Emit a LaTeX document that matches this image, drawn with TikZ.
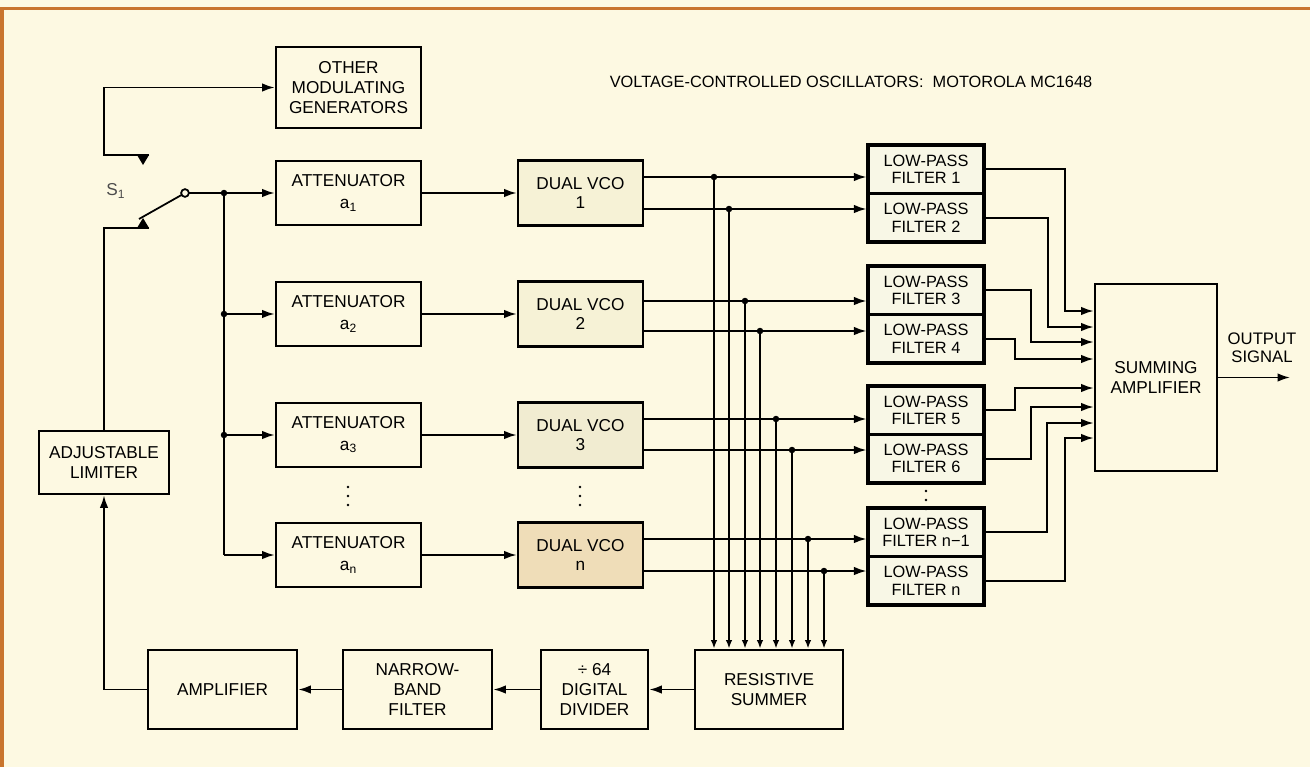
\documentclass[tikz,border=0pt]{standalone}
\usepackage{fontspec}
\setmainfont{Liberation Sans}
\usepackage{tikz}
\usetikzlibrary{calc,arrows.meta,positioning}
\definecolor{paper}{HTML}{FDF9E2}
\definecolor{rimx}{HTML}{C9752E}
\definecolor{vcoa}{HTML}{F6F2D6}
\definecolor{vcob}{HTML}{F1ECD1}
\definecolor{vcoc}{HTML}{EFDDB8}
\definecolor{lpf}{HTML}{F8F7E6}
\tikzset{
  ar/.style={-{Latex[length=2.5mm,width=1.7mm]},line width=1pt},
  arsm/.style={-{Latex[length=1.7mm,width=1.3mm]},line width=1pt},
  wire/.style={line width=1pt},
  box/.style={draw,line width=1.6pt,align=center,inner sep=2pt,font=\fontsize{9.8}{11.2}\selectfont},
  lpbox/.style={box,line width=1.8pt,fill=lpf,minimum width=2.32cm,minimum height=0.97cm,font=\fontsize{9.3}{9.8}\selectfont},
  jdot/.style={circle,fill,inner sep=0pt,minimum size=1.3mm}
}
\begin{document}
\begin{tikzpicture}[x=0.02cm,y=-0.02cm]
\useasboundingbox (0,0) rectangle (1310,767);
\fill[paper] (0,0) rectangle (1310,767);
\fill[rimx] (0,7) rectangle (1310,10);
\fill[rimx] (0,7) rectangle (4,767);
\node[font=\fontsize{9.3}{11}\selectfont] (title) at (851,82) {VOLTAGE-CONTROLLED OSCILLATORS:\ \ MOTOROLA MC1648};
% left column
\node[box,minimum width=2.9cm,minimum height=1.62cm] (othgen) at (348.5,87.5) {OTHER\\MODULATING\\GENERATORS};
\foreach \i/\y/\f in {1/193/vcoa,2/314/vcoa,3/435/vcob,n/555/vcoc}{
  \node[box,minimum width=2.9cm,minimum height=1.28cm] (att\i) at (348.5,\y) {ATTENUATOR\\[1pt]a\textsubscript{\i}};
  \node[box,minimum width=2.5cm,minimum height=1.3cm,fill=\f] (vco\i) at (580.5,\y) {DUAL VCO\\\i};
  \draw[ar] (att\i) -- (vco\i);
}
\node[box,minimum width=2.6cm,minimum height=1.26cm] (lim) at (104,462.5) {ADJUSTABLE\\LIMITER};
% bottom row
\node[box,minimum width=2.98cm,minimum height=1.58cm] (amp) at (222.5,689.5) {AMPLIFIER};
\node[box,minimum width=2.98cm,minimum height=1.58cm] (nbf) at (417.5,689.5) {NARROW-\\BAND\\FILTER};
\node[box,minimum width=2.14cm,minimum height=1.58cm] (div) at (594.5,689.5) {÷ 64\\DIGITAL\\DIVIDER};
\node[box,minimum width=2.96cm,minimum height=1.58cm] (rsum) at (769,689.5) {RESISTIVE\\SUMMER};
\draw[ar] (rsum) -- (div);
\draw[ar] (div) -- (nbf);
\draw[ar] (nbf) -- (amp);
\draw[ar] (amp.west) -| (lim.south);
% filters
\node[lpbox] (f1) at (926,169.25) {LOW-PASS\\FILTER 1};
\node[lpbox] (f2) at (926,217.75) {LOW-PASS\\FILTER 2};
\node[lpbox] (f3) at (926,290.25) {LOW-PASS\\FILTER 3};
\node[lpbox] (f4) at (926,338.75) {LOW-PASS\\FILTER 4};
\node[lpbox] (f5) at (926,410.25) {LOW-PASS\\FILTER 5};
\node[lpbox] (f6) at (926,458.75) {LOW-PASS\\FILTER 6};
\node[lpbox] (fn1) at (926,532.25) {LOW-PASS\\FILTER n−1};
\node[lpbox] (fn) at (926,580.75) {LOW-PASS\\FILTER n};
\node[box,minimum width=2.44cm,minimum height=3.74cm] (sum) at (1156,377.5) {SUMMING\\AMPLIFIER};
\coordinate (outp) at (1290,377.5);
\draw[ar] (sum.east) -- (outp);
\node[font=\fontsize{9.5}{10.5}\selectfont,align=center] (outlbl) at (1262,348) {OUTPUT\\SIGNAL};
% vco outputs and bus
\foreach \k/\v/\dy/\f/\bx in {1/1/-16/f1/714,2/1/16/f2/729,3/2/-13/f3/745,4/2/17/f4/760,5/3/-16/f5/776,6/3/15/f6/792,7/n/-16/fn1/808,8/n/16/fn/824}{
  \coordinate (o\k) at ($(vco\v.east)+(0,\dy)$);
  \coordinate (b\k) at (\bx,0);
  \draw[ar] (o\k) -- (o\k -| \f.west);
  \draw[arsm] (o\k -| b\k) -- (b\k |- rsum.north);
  \node[jdot] at (o\k -| b\k) {};
}
\foreach \f/\x/\yin [count=\k] in {f1/1065/311,f2/1048/327,f3/1031/342,f4/1015/359,f5/1015/388,f6/1031/407,fn1/1047/423,fn/1065/438}{
  \coordinate (s\k) at (\x,\yin);
  \draw[ar] (\f.east) -| (s\k) -- (s\k -| sum.west);
}
% switch S1
\coordinate (pivot) at (185,193);
\coordinate (blade) at (139,219);
\coordinate (upc) at (143,155);
\coordinate (loc) at (143,228);
\coordinate (sw) at (224,193);
\draw[wire] (pivot) -- (sw);
\draw[wire] (pivot) -- (blade);
\fill ($(upc)+(-6,0)$) -- ($(upc)+(6,0)$) -- ($(upc)+(0,10)$) -- cycle;
\fill ($(loc)+(-6,0)$) -- ($(loc)+(6,0)$) -- ($(loc)+(0,-10)$) -- cycle;
\draw[ar] ($(upc)+(6,0)$) -| (104,120) |- (othgen.west);
\draw[wire] ($(loc)+(6,0)$) -| (lim.north);
\draw[wire,fill=paper] (pivot) circle (2.2pt);
\node[text=black!70,font=\fontsize{9.8}{11}\selectfont] (slbl) at (116,191) {S\textsubscript{1}};
\draw[ar] (sw) -- (att1.west);
\draw[wire] (sw) -- (sw |- attn.west);
\foreach \i in {2,3,n}{\draw[ar] (sw |- att\i.west) -- (att\i.west);}
\foreach \i in {1,2,3}{\node[jdot] at (sw |- att\i.west) {};}
% continuation dots
\foreach \xx/\ya in {348/487,580/487,926/491}{
  \foreach \dd in {0,9,18}{\fill (\xx,\ya+\dd) circle (0.8pt);}
}
\end{tikzpicture}
\end{document}
